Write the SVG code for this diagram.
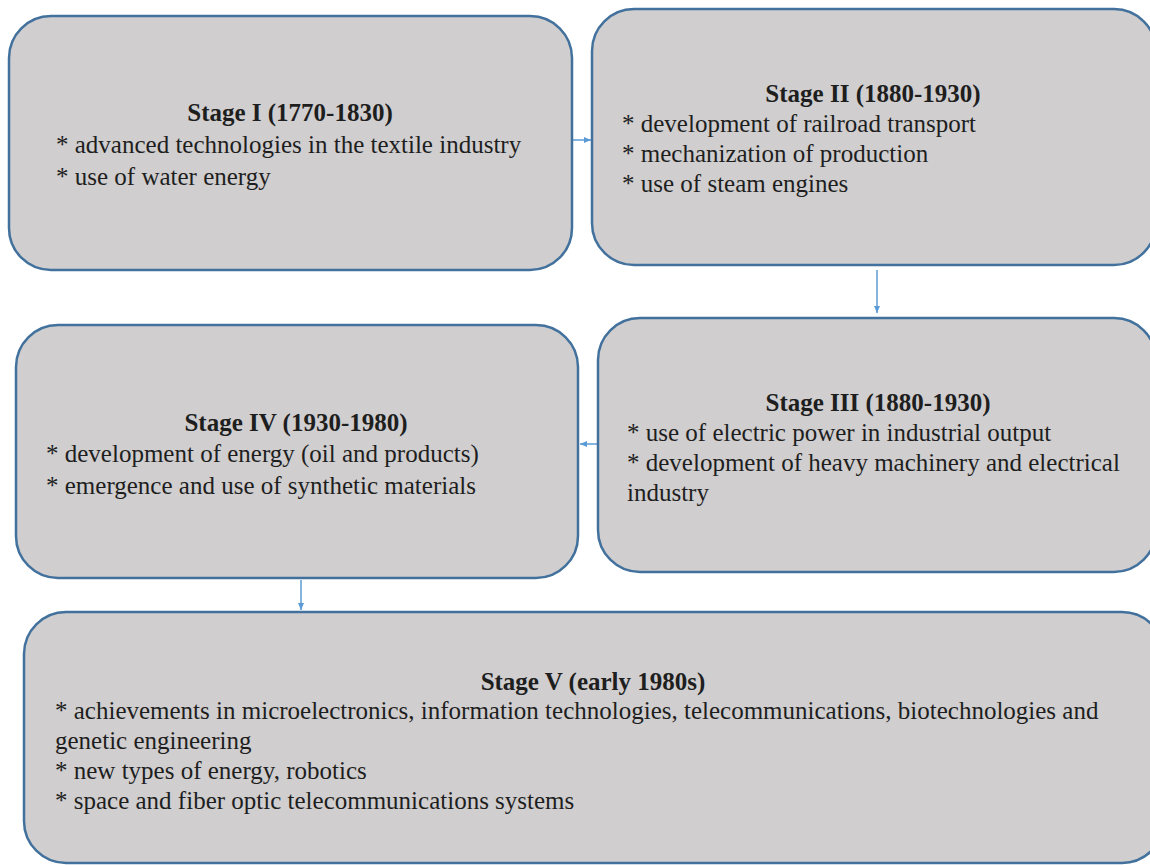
<svg xmlns="http://www.w3.org/2000/svg" width="1150" height="865" viewBox="0 0 1150 865">
<style>
.box{fill:#d0cecf;stroke:#41719c;stroke-width:2.5}
.t{font-family:'Liberation Serif','DejaVu Serif',serif;font-size:25px;fill:#1e1e1e}
.h{font-weight:bold;text-anchor:middle}
.c{stroke:#5b9bd5;stroke-width:1.5;fill:none}
</style>
<defs>
<marker id="ah" markerWidth="8" markerHeight="8" refX="7" refY="4" orient="auto" markerUnits="userSpaceOnUse">
<path d="M0,1 L7,4 L0,7 Z" fill="#5b9bd5"/>
</marker>
</defs>
<rect width="1150" height="865" fill="#ffffff"/>
<g id="connectors">
<line class="c" x1="572" y1="140" x2="591" y2="140" marker-end="url(#ah)"/>
<line class="c" x1="877" y1="270" x2="877" y2="313" marker-end="url(#ah)"/>
<line class="c" x1="598" y1="444" x2="580" y2="444" marker-end="url(#ah)"/>
<line class="c" x1="301" y1="580" x2="301" y2="610" marker-end="url(#ah)"/>
</g>
<g id="stage1">
<rect class="box" x="9" y="16" width="563" height="254" rx="42"/>
<text class="t h" x="290" y="121">Stage I (1770-1830)</text>
<text class="t" x="56" y="153">* advanced technologies in the textile industry</text>
<text class="t" x="56" y="185">* use of water energy</text>
</g>
<g id="stage2">
<rect class="box" x="592" y="9" width="564" height="256" rx="42"/>
<text class="t h" x="873" y="102">Stage II (1880-1930)</text>
<text class="t" x="622" y="132">* development of railroad transport</text>
<text class="t" x="622" y="162">* mechanization of production</text>
<text class="t" x="622" y="192">* use of steam engines</text>
</g>
<g id="stage3">
<rect class="box" x="598" y="318" width="558" height="254" rx="42"/>
<text class="t h" x="878" y="411">Stage III (1880-1930)</text>
<text class="t" x="627" y="441">* use of electric power in industrial output</text>
<text class="t" x="627" y="471">* development of heavy machinery and electrical</text>
<text class="t" x="627" y="501">industry</text>
</g>
<g id="stage4">
<rect class="box" x="16" y="325" width="562" height="253" rx="42"/>
<text class="t h" x="296" y="431">Stage IV (1930-1980)</text>
<text class="t" x="46" y="462">* development of energy (oil and products)</text>
<text class="t" x="46" y="494">* emergence and use of synthetic materials</text>
</g>
<g id="stage5">
<rect class="box" x="24" y="612" width="1140" height="251" rx="42"/>
<text class="t h" x="593" y="690">Stage V (early 1980s)</text>
<text class="t" x="55" y="719">* achievements in microelectronics, information technologies, telecommunications, biotechnologies and</text>
<text class="t" x="55" y="749">genetic engineering</text>
<text class="t" x="55" y="779">* new types of energy, robotics</text>
<text class="t" x="55" y="809">* space and fiber optic telecommunications systems</text>
</g>
</svg>
